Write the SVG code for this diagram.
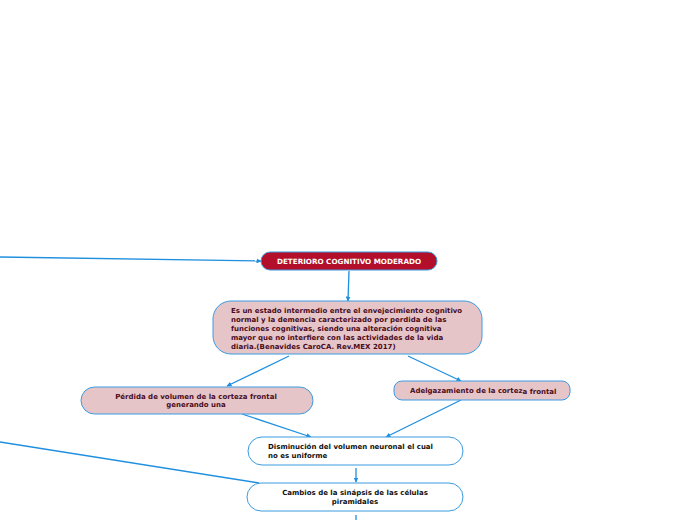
<svg xmlns="http://www.w3.org/2000/svg" width="696" height="520" viewBox="0 0 696 520">
<defs>
<style>
.t{font-family:"DejaVu Sans","Liberation Sans",sans-serif;font-weight:bold;font-size:7px}
.c{stroke:#1f8fdf;stroke-width:1.3;fill:none}
.pink{fill:#e6c5c9;stroke:#3a9be0;stroke-width:1}
.wht{fill:#ffffff;stroke:#3a9be0;stroke-width:1}
.dk{fill:#4a0c1c}
.bk{fill:#111111}
</style>
<marker id="a" viewBox="0 0 10 10" refX="9" refY="5" markerWidth="5" markerHeight="5" orient="auto" markerUnits="userSpaceOnUse">
<path d="M0,0 L10,5 L0,10 z" fill="#1f8fdf"/>
</marker>
</defs>
<rect width="696" height="520" fill="#ffffff"/>
<g id="connectors">
<path class="c" d="M0,257 L261,261" marker-end="url(#a)"/>
<path class="c" d="M349,271 L348,301" marker-end="url(#a)"/>
<path class="c" d="M289,356 L227,386" marker-end="url(#a)"/>
<path class="c" d="M408,356 L461,381" marker-end="url(#a)"/>
<path class="c" d="M242,414 L311,437" marker-end="url(#a)"/>
<path class="c" d="M461,400 L386,437" marker-end="url(#a)"/>
<path class="c" d="M356,468 L356,482" marker-end="url(#a)"/>
<path class="c" d="M0,442 L259,483"/>
<path class="c" d="M356,515 L356,520"/>
</g>
<g id="n1">
<rect x="261" y="252" width="176" height="18" rx="9" fill="#b30f2a" stroke="#3a9be0" stroke-width="1"/>
<text class="t" x="349" y="264" text-anchor="middle" fill="#ffffff" style="font-size:7.2px">DETERIORO COGNITIVO MODERADO</text>
</g>
<g id="n2">
<rect class="pink" x="213" y="301" width="269" height="53" rx="18"/>
<text class="t dk" x="231" y="313">Es un estado intermedio entre el envejecimiento cognitivo</text>
<text class="t dk" x="231" y="322">normal y la demencia caracterizado por perdida de las</text>
<text class="t dk" x="231" y="331">funciones cognitivas, siendo una alteración cognitiva</text>
<text class="t dk" x="231" y="340">mayor que no interfiere con las actividades de la vida</text>
<text class="t dk" x="231" y="349">diaria.(Benavides CaroCA. Rev.MEX 2017)</text>
</g>
<g id="n3">
<rect class="pink" x="81" y="387" width="232" height="27" rx="13.5"/>
<text class="t dk" x="196" y="399" text-anchor="middle">Pérdida de volumen de la corteza frontal</text>
<text class="t dk" x="196" y="407" text-anchor="middle">generando una</text>
</g>
<g id="n4">
<rect class="pink" x="394" y="381" width="176" height="19" rx="8"/>
<text class="t dk" x="410" y="393">Adelgazamiento de la cortez<tspan dy="1">a frontal</tspan></text>
</g>
<g id="n5">
<rect class="wht" x="248" y="437" width="215" height="28" rx="14"/>
<text class="t bk" x="268" y="449">Disminución del volumen neuronal el cual</text>
<text class="t bk" x="268" y="458">no es uniforme</text>
</g>
<g id="n6">
<rect class="wht" x="247" y="483" width="216" height="28" rx="14"/>
<text class="t bk" x="355" y="495" text-anchor="middle">Cambios de la sinápsis de las células</text>
<text class="t bk" x="355" y="504" text-anchor="middle">piramidales</text>
</g>
</svg>
